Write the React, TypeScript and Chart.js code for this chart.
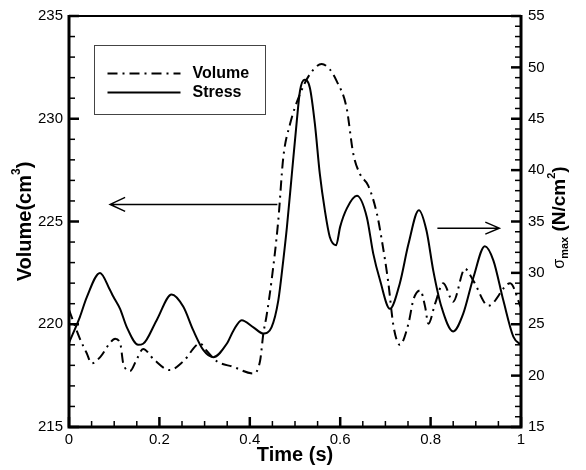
import React, { useEffect, useRef } from "react";
import { Chart, registerables } from "chart.js";
Chart.register(...registerables);

// ---- data ----
const stressTime = [0.0, 0.024, 0.039, 0.0686, 0.091, 0.098, 0.113, 0.128, 0.153, 0.164, 0.194, 0.227, 0.253, 0.275, 0.297, 0.319, 0.349, 0.364, 0.382, 0.408, 0.43, 0.448, 0.463, 0.474, 0.482, 0.493, 0.504, 0.511, 0.521, 0.533, 0.544, 0.555, 0.566, 0.577, 0.591, 0.6, 0.615, 0.637, 0.659, 0.673, 0.688, 0.71, 0.732, 0.751, 0.774, 0.791, 0.806, 0.824, 0.85, 0.872, 0.895, 0.92, 0.939, 0.961, 0.983, 1.0];
const stressValue = [23.2, 25.7, 27.6, 30.0, 28.3, 27.7, 26.5, 24.7, 23.0, 23.1, 25.4, 27.9, 26.7, 24.4, 22.5, 21.8, 23.1, 24.4, 25.4, 24.7, 24.1, 24.7, 27.3, 31.2, 34.4, 39.6, 44.8, 47.7, 48.8, 48.0, 44.5, 39.6, 36.1, 33.5, 32.7, 34.5, 36.3, 37.5, 35.4, 31.9, 29.3, 26.5, 29.0, 32.8, 36.1, 34.1, 30.2, 26.7, 24.3, 26.0, 29.6, 32.6, 31.2, 27.3, 23.8, 23.0];

const volumeTime = [0.0, 0.024, 0.039, 0.05, 0.069, 0.091, 0.102, 0.114, 0.12, 0.135, 0.15, 0.164, 0.187, 0.223, 0.253, 0.29, 0.305, 0.327, 0.363, 0.408, 0.423, 0.43, 0.437, 0.448, 0.463, 0.474, 0.489, 0.511, 0.533, 0.559, 0.577, 0.592, 0.614, 0.629, 0.644, 0.662, 0.681, 0.692, 0.706, 0.718, 0.732, 0.751, 0.762, 0.777, 0.788, 0.795, 0.81, 0.828, 0.85, 0.876, 0.895, 0.928, 0.976, 1.0];
const volumeValue = [220.7, 219.3, 218.6, 218.1, 218.4, 219.1, 219.3, 219.0, 218.1, 217.73, 218.3, 218.8, 218.3, 217.77, 218.2, 219.06, 218.7, 218.2, 217.93, 217.6, 218.25, 219.55, 220.4, 222.1, 225.05, 228.1, 229.74, 231.2, 232.17, 232.66, 232.4, 231.84, 230.55, 228.29, 227.3, 226.75, 225.4, 224.1, 222.1, 219.9, 219.0, 220.03, 221.2, 221.65, 220.84, 220.03, 221.0, 222.0, 221.1, 222.7, 222.1, 220.9, 222.0, 220.8];

const xTickValues = [0, 0.2, 0.4, 0.6, 0.8, 1];
const volumeRange = [215, 235];
const stressRange = [15, 55];
const seriesNames = ["Volume", "Stress"];
// arrows: [tStart, tEnd, level]
const leftArrow = [0.091, 0.461, 225.83];
const rightArrow = [0.815, 0.952, 34.35];

const FONT = "'Liberation Sans', Arial, Helvetica, sans-serif";

function drawRun(ctx: CanvasRenderingContext2D, parts: { t: string; f: string; dy: number }[], cx: number, cy: number, rot: number) {
  ctx.save();
  ctx.translate(cx, cy);
  ctx.rotate(rot);
  ctx.textBaseline = "middle";
  ctx.textAlign = "left";
  let total = 0;
  const widths = parts.map((p) => {
    ctx.font = p.f;
    const w = ctx.measureText(p.t).width;
    total += w;
    return w;
  });
  let x = -total / 2;
  parts.forEach((p, i) => {
    ctx.font = p.f;
    ctx.fillStyle = "#000";
    ctx.fillText(p.t, x, p.dy);
    x += widths[i];
  });
  ctx.restore();
}

const decorPlugin = {
  id: "decor",
  afterDraw(chart: any) {
    const ctx: CanvasRenderingContext2D = chart.ctx;
    const { left, right, top, bottom } = chart.chartArea;
    const xs = chart.scales.x;
    const yl = chart.scales.y;
    const yr = chart.scales.y2;
    ctx.save();
    ctx.strokeStyle = "#000";
    ctx.lineCap = "butt";
    for (let i = 0; i <= 20; i++) {
      const v = i * 0.05;
      const px = xs.getPixelForValue(v);
      const major = i % 4 === 0;
      ctx.lineWidth = major ? 2.5 : 1.5;
      ctx.beginPath();
      ctx.moveTo(px, bottom);
      ctx.lineTo(px, bottom - (major ? 10 : 6));
      ctx.stroke();
    }
    for (let v = volumeRange[0]; v <= volumeRange[1]; v++) {
      const py = yl.getPixelForValue(v);
      const major = v % 5 === 0;
      ctx.lineWidth = major ? 2.5 : 1.5;
      ctx.beginPath();
      ctx.moveTo(left, py);
      ctx.lineTo(left + (major ? 10 : 6), py);
      ctx.stroke();
    }
    for (let v = stressRange[0]; v <= stressRange[1]; v++) {
      const py = yr.getPixelForValue(v);
      const major = v % 5 === 0;
      ctx.lineWidth = major ? 2.5 : 1.5;
      ctx.beginPath();
      ctx.moveTo(right, py);
      ctx.lineTo(right - (major ? 10 : 6), py);
      ctx.stroke();
    }
    ctx.lineWidth = 2;
    ctx.beginPath();
    ctx.moveTo(left, top);
    ctx.lineTo(right, top);
    ctx.stroke();
    ctx.lineWidth = 3;
    ctx.beginPath();
    ctx.moveTo(left, top - 1);
    ctx.lineTo(left, bottom);
    ctx.lineTo(right, bottom);
    ctx.lineTo(right, top - 1);
    ctx.stroke();

    ctx.lineWidth = 1.5;
    {
      const x0 = xs.getPixelForValue(leftArrow[0]);
      const x1 = xs.getPixelForValue(leftArrow[1]);
      const y = yl.getPixelForValue(leftArrow[2]);
      ctx.beginPath();
      ctx.moveTo(x1, y);
      ctx.lineTo(x0, y);
      ctx.moveTo(x0 + 15, y - 7);
      ctx.lineTo(x0, y);
      ctx.lineTo(x0 + 15, y + 7);
      ctx.stroke();
    }
    {
      const x0 = xs.getPixelForValue(rightArrow[0]);
      const x1 = xs.getPixelForValue(rightArrow[1]);
      const y = yr.getPixelForValue(rightArrow[2]);
      ctx.beginPath();
      ctx.moveTo(x0, y);
      ctx.lineTo(x1, y);
      ctx.moveTo(x1 - 14, y - 6);
      ctx.lineTo(x1, y);
      ctx.lineTo(x1 - 14, y + 6);
      ctx.stroke();
    }

    const lx = left + 25.5, ly = top + 29.5;
    ctx.lineWidth = 1;
    ctx.strokeStyle = "#444";
    ctx.strokeRect(lx, ly, 171, 69);
    ctx.strokeStyle = "#000";
    ctx.lineWidth = 2;
    ctx.setLineDash([10, 5, 2, 5]);
    ctx.beginPath();
    ctx.moveTo(lx + 13, ly + 28);
    ctx.lineTo(lx + 86, ly + 28);
    ctx.stroke();
    ctx.setLineDash([]);
    ctx.beginPath();
    ctx.moveTo(lx + 13, ly + 47);
    ctx.lineTo(lx + 86, ly + 47);
    ctx.stroke();
    ctx.fillStyle = "#000";
    ctx.font = `bold 16px ${FONT}`;
    ctx.textBaseline = "middle";
    ctx.textAlign = "left";
    ctx.fillText(seriesNames[0], lx + 98, ly + 28.5);
    ctx.fillText(seriesNames[1], lx + 98, ly + 47);
    ctx.restore();

    const midY = (top + bottom) / 2;
    drawRun(ctx, [
      { t: "Volume(cm", f: `bold 20px ${FONT}`, dy: 0 },
      { t: "3", f: `bold 12px ${FONT}`, dy: -8 },
      { t: ")", f: `bold 20px ${FONT}`, dy: 0 },
    ], 25, midY, -Math.PI / 2);
    drawRun(ctx, [
      { t: "σ", f: `16px ${FONT}`, dy: 0 },
      { t: "max", f: `bold 11px ${FONT}`, dy: 5 },
      { t: " (N/cm", f: `bold 19px ${FONT}`, dy: 0 },
      { t: "2", f: `bold 11px ${FONT}`, dy: -8 },
      { t: ")", f: `bold 19px ${FONT}`, dy: 0 },
    ], 560, midY - 4, -Math.PI / 2);
    drawRun(ctx, [{ t: "Time (s)", f: `bold 20px ${FONT}`, dy: 0 }], (left + right) / 2, 455, 0);
  },
};

export default function App() {
  const ref = useRef<HTMLCanvasElement | null>(null);
  useEffect(() => {
    if (!ref.current) return;
    const tickFont = { family: FONT, size: 15 };
    const noGrid = { display: false, drawTicks: false, tickLength: 0 };
    const chart = new Chart(ref.current, {
      type: "line",
      data: {
        datasets: [
          {
            label: seriesNames[0],
            data: volumeTime.map((t, i) => ({ x: t, y: volumeValue[i] })),
            yAxisID: "y",
            borderColor: "#000",
            borderWidth: 2,
            borderDash: [10, 5, 2, 5],
            pointRadius: 0,
            fill: false,
            cubicInterpolationMode: "monotone",
          },
          {
            label: seriesNames[1],
            data: stressTime.map((t, i) => ({ x: t, y: stressValue[i] })),
            yAxisID: "y2",
            borderColor: "#000",
            borderWidth: 2,
            pointRadius: 0,
            fill: false,
            cubicInterpolationMode: "monotone",
          },
        ],
      },
      options: {
        animation: false,
        responsive: false,
        layout: { padding: { top: 15, left: 0, right: 0, bottom: 0 } },
        plugins: { legend: { display: false }, tooltip: { enabled: false } },
        scales: {
          x: {
            type: "linear",
            min: 0,
            max: 1,
            afterBuildTicks: (s: any) => { s.ticks = xTickValues.map((v) => ({ value: v })); },
            ticks: { font: tickFont, color: "#000", padding: 4, maxRotation: 0, callback: (v: any) => String(v) },
            grid: noGrid,
            border: { display: false },
            afterFit: (s: any) => { s.height = 43; },
          },
          y: {
            type: "linear",
            position: "left",
            min: volumeRange[0],
            max: volumeRange[1],
            ticks: { stepSize: 5, font: tickFont, color: "#000", padding: 6 },
            grid: noGrid,
            border: { display: false },
            afterFit: (s: any) => { s.width = 69; },
          },
          y2: {
            type: "linear",
            position: "right",
            min: stressRange[0],
            max: stressRange[1],
            ticks: { stepSize: 5, font: tickFont, color: "#000", padding: 7 },
            grid: noGrid,
            border: { display: false },
            afterFit: (s: any) => { s.width = 65; },
          },
        },
      },
      plugins: [decorPlugin],
    } as any);
    return () => chart.destroy();
  }, []);
  return (
    <div style={{ position: "absolute", left: 0, top: 0, width: 586, height: 470, background: "#fff" }}>
      <canvas ref={ref} width={586} height={470} />
    </div>
  );
}
